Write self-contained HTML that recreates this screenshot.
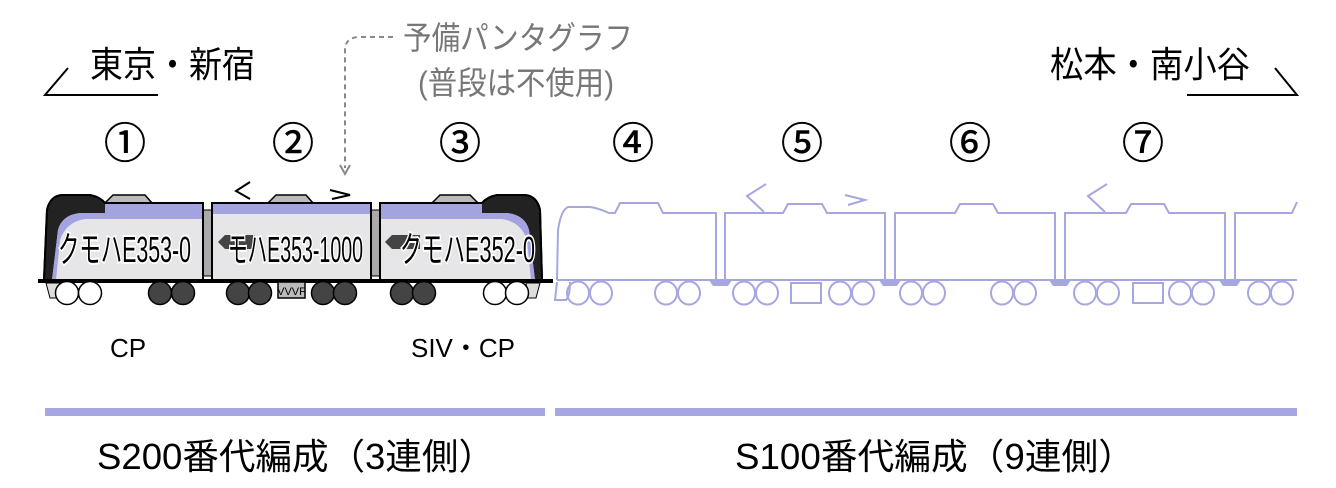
<!DOCTYPE html>
<html><head><meta charset="utf-8"><style>
html,body{margin:0;padding:0;background:#fff;width:1336px;height:488px;overflow:hidden}
svg{display:block}
text{font-family:"Liberation Sans","Noto Sans CJK JP",sans-serif}
</style></head><body>
<svg width="1336" height="488" viewBox="0 0 1336 488" xmlns="http://www.w3.org/2000/svg">
<text x="90" y="77" font-size="36" textLength="165" lengthAdjust="spacingAndGlyphs" fill="#000">東京・新宿</text>
<polyline points="68,68 45,95 158,95" fill="none" stroke="#000" stroke-width="2"/>
<text x="1050" y="77" font-size="36" textLength="200" lengthAdjust="spacingAndGlyphs" fill="#000">松本・南小谷</text>
<polyline points="1275,68 1297,95 1187,95" fill="none" stroke="#000" stroke-width="2"/>
<text x="403" y="49" font-size="32" textLength="230" lengthAdjust="spacingAndGlyphs" fill="#777">予備パンタグラフ</text>
<text x="418" y="94" font-size="32" textLength="196" lengthAdjust="spacingAndGlyphs" fill="#777">(普段は不使用)</text>
<path d="M393,37 L360,37 Q345,37 345,50 L345,168" fill="none" stroke="#888" stroke-width="2" stroke-dasharray="5,4"/>
<path d="M340,165 L345,174 L350,165" fill="none" stroke="#888" stroke-width="2"/>
<g font-size="42" fill="#000" text-anchor="middle" stroke="#000" stroke-width="0.6">
<text x="125" y="158">①</text><text x="293" y="158">②</text><text x="460" y="158">③</text>
<text x="633" y="158">④</text><text x="802" y="158">⑤</text><text x="970" y="158">⑥</text><text x="1143" y="158">⑦</text>
</g>
<rect x="203" y="210" width="9" height="66" fill="#aaa" stroke="#000" stroke-width="1"/>
<rect x="371" y="210" width="9" height="66" fill="#aaa" stroke="#000" stroke-width="1"/>
<g fill="#bbb" stroke="#000" stroke-width="1.5">
<path d="M105,203 L113,195 L145,195 L152,203Z"/>
<path d="M268,203 L276,195 L306,195 L313,203Z"/>
<path d="M432,203 L440,195 L470,195 L478,203Z"/>
</g>
<polyline points="250,182 236,191 250,199" fill="none" stroke="#000" stroke-width="2"/>
<polyline points="330,190 350,195 332,199" fill="none" stroke="#000" stroke-width="2"/>
<path d="M44,280 L47,210 Q50,196 62,195 L90,195 Q100,197 105,203 L203,203 L203,280Z" fill="#e6e6e8" stroke="#000" stroke-width="2"/>
<path d="M44,280 L47,210 Q50,196 62,195 L90,195 Q100,197 105,203 L203,203 L203,213 L80,213 Q62,215 58,230 L52,280Z" fill="#222"/>
<path d="M80,213 L203,213 L203,219 L85,219 Q66,222 60,240 L56,280 L52,280 L58,230 Q62,215 80,213Z" fill="#a3a3e0"/>
<rect x="105" y="203" width="98" height="10" fill="#a3a3e0"/>
<path d="M44,280 L47,210 Q50,196 62,195 L90,195 Q100,197 105,203 L203,203 L203,280Z" fill="none" stroke="#000" stroke-width="2"/>
<rect x="212" y="203" width="159" height="77" fill="#e6e6e8" stroke="#000" stroke-width="2"/>
<rect x="213" y="204" width="157" height="10" fill="#a3a3e0"/>
<path d="M225,235 L218,242 L225,249 L255,249 L255,235Z" fill="#444"/>
<path d="M542,280 L540,210 Q537,196 525,195 L497,195 Q487,197 482,203 L380,203 L380,280Z" fill="#e6e6e8" stroke="#000" stroke-width="2"/>
<path d="M542,280 L540,210 Q537,196 525,195 L497,195 Q487,197 482,203 L380,203 L380,213 L507,213 Q525,215 529,230 L535,280Z" fill="#222"/>
<path d="M507,213 L381,213 L381,219 L502,219 Q521,222 527,240 L531,280 L535,280 L529,230 Q525,215 507,213Z" fill="#a3a3e0"/>
<rect x="381" y="204" width="101" height="9" fill="#a3a3e0"/>
<path d="M392,235 L385,242 L392,249 L420,249 L420,235Z" fill="#444"/>
<path d="M542,280 L540,210 Q537,196 525,195 L497,195 Q487,197 482,203 L380,203 L380,280Z" fill="none" stroke="#000" stroke-width="2"/>
<g font-size="36" fill="#000" stroke="#fff" stroke-width="4" paint-order="stroke">
<text x="58" y="262" textLength="133" lengthAdjust="spacingAndGlyphs">クモハE353-0</text>
<text x="228" y="262" textLength="135" lengthAdjust="spacingAndGlyphs">モハE353-1000</text>
<text x="400" y="262" textLength="135" lengthAdjust="spacingAndGlyphs">クモハE352-0</text>
</g>
<line x1="38" y1="281" x2="553" y2="281" stroke="#000" stroke-width="4"/>
<path d="M46,283 L50,298 L58,298 L60,283Z M540,283 L536,298 L528,298 L526,283Z" fill="#ddd" stroke="#000" stroke-width="1"/>
<g stroke="#000" stroke-width="1.5">
<circle cx="67" cy="293" r="11.5" fill="#fff"/><circle cx="90" cy="293" r="11.5" fill="#fff"/>
<circle cx="160" cy="293" r="11.5" fill="#444"/><circle cx="183" cy="293" r="11.5" fill="#444"/>
<circle cx="238" cy="293" r="11.5" fill="#444"/><circle cx="260" cy="293" r="11.5" fill="#444"/>
<circle cx="323" cy="293" r="11.5" fill="#444"/><circle cx="345" cy="293" r="11.5" fill="#444"/>
<circle cx="402" cy="293" r="11.5" fill="#444"/><circle cx="424" cy="293" r="11.5" fill="#444"/>
<circle cx="495" cy="293" r="11.5" fill="#fff"/><circle cx="517" cy="293" r="11.5" fill="#fff"/>
<rect x="278" y="282" width="27" height="16" fill="#bbb"/>
</g>
<text x="291.5" y="295" font-size="11" text-anchor="middle" fill="#000">VVVF</text>
<g fill="none" stroke="#a6a6e0" stroke-width="2">
<path d="M557,280 L558,230 Q561,210 568,207 L590,207 Q598,208 609,213 L615,213 L620,203 L658,203 L663,213 L716,213 L716,280"/>
<path d="M725,280 L725,213 L783,213 L788,204 L822,204 L827,213 L885,213 L885,280"/>
<path d="M895,280 L895,213 L955,213 L960,204 L993,204 L998,213 L1055,213 L1055,280"/>
<path d="M1065,280 L1065,213 L1126,213 L1131,204 L1164,204 L1169,213 L1225,213 L1225,280"/>
<path d="M1235,280 L1235,213 L1292,213 L1297,202"/>
<line x1="557" y1="280" x2="1297" y2="280"/>
<polyline points="766,184 747,196 764,212"/>
<polyline points="845,195 865,200 848,205"/>
<polyline points="1107,184 1088,196 1105,212"/>
<path d="M557,282 L555,300 L566,300 Q570,296 570,282"/>
<path d="M791,283 L821,283 L821,303 L791,303Z"/>
<path d="M1133,283 L1163,283 L1163,303 L1133,303Z"/>
<g>
<ellipse cx="578" cy="293" rx="11" ry="11.5"/><ellipse cx="601" cy="293" rx="11" ry="11.5"/>
<ellipse cx="666" cy="293" rx="11" ry="11.5"/><ellipse cx="689" cy="293" rx="11" ry="11.5"/>
<ellipse cx="744" cy="293" rx="11" ry="11.5"/><ellipse cx="767" cy="293" rx="11" ry="11.5"/>
<ellipse cx="840" cy="293" rx="11" ry="11.5"/><ellipse cx="863" cy="293" rx="11" ry="11.5"/>
<ellipse cx="911" cy="293" rx="11" ry="11.5"/><ellipse cx="934" cy="293" rx="11" ry="11.5"/>
<ellipse cx="1002" cy="293" rx="11" ry="11.5"/><ellipse cx="1025" cy="293" rx="11" ry="11.5"/>
<ellipse cx="1085" cy="293" rx="11" ry="11.5"/><ellipse cx="1108" cy="293" rx="11" ry="11.5"/>
<ellipse cx="1180" cy="293" rx="11" ry="11.5"/><ellipse cx="1203" cy="293" rx="11" ry="11.5"/>
<ellipse cx="1259" cy="293" rx="11" ry="11.5"/><ellipse cx="1282" cy="293" rx="11" ry="11.5"/>
</g>
</g>
<g fill="#a6a6e0">
<path d="M709,280 L732,280 L728,286 L713,286Z"/>
<path d="M879,280 L901,280 L897,286 L883,286Z"/>
<path d="M1049,280 L1071,280 L1067,286 L1053,286Z"/>
<path d="M1219,280 L1241,280 L1237,286 L1223,286Z"/>
</g>
<text x="128" y="357" font-size="26" text-anchor="middle" fill="#000">CP</text>
<text x="463" y="357" font-size="26" text-anchor="middle" fill="#000">SIV・CP</text>
<rect x="45" y="408" width="500" height="8" fill="#a6a6e0"/>
<rect x="555" y="408" width="742" height="8" fill="#a6a6e0"/>
<text x="97" y="469" font-size="36" textLength="398" lengthAdjust="spacingAndGlyphs" fill="#000">S200番代編成（3連側）</text>
<text x="735" y="469" font-size="36" textLength="400" lengthAdjust="spacingAndGlyphs" fill="#000">S100番代編成（9連側）</text>
</svg>
</body></html>
